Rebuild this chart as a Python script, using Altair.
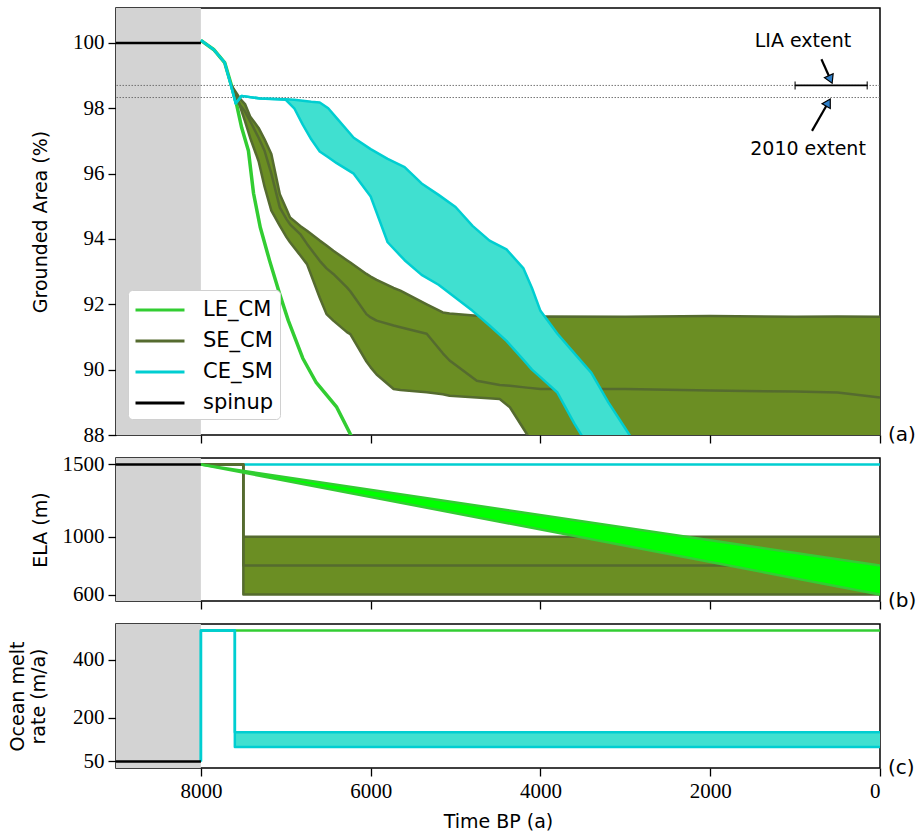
import altair as alt
import pandas as pd

# ---------------- data ----------------
SERIES = ["LE_CM", "SE_CM", "CE_SM", "spinup"]
SERIES_COLORS = ["#32cd32", "#556b2f", "#00ced1", "#000000"]
OLIVE_FILL = "#6b8e23"
CYAN_FILL = "#40e0d0"
LIME_FILL = "#00ff00"
SPINUP_GREY = "#d3d3d3"

X_TICKS = [0, 2000, 4000, 6000, 8000]
YA_TICKS = [88, 90, 92, 94, 96, 98, 100]
YB_TICKS = [600, 1000, 1500]
YC_TICKS = [50, 200, 400]
PANEL_LABELS = ["(a)", "(b)", "(c)"]

SPINUP_T = [9000, 8000]

# panel (a): grounded area (%)
SPIN_AREA = [100.0, 100.0]

LE_T = [8000, 7850, 7720, 7640, 7580, 7520, 7440, 7380, 7300, 7190, 7070, 6970, 6800, 6640, 6400, 6240, 6100]
LE_AREA = [100.08, 99.8, 99.4, 98.7, 98.13, 97.41, 96.7, 95.4, 94.35, 93.33, 92.3, 91.5, 90.35, 89.6, 88.85, 88.03, 87.4]

SE_T = [7640, 7540, 7480, 7420, 7320, 7250, 7170, 7070, 6990, 6950, 6830, 6750, 6600, 6520, 6440, 6280,
        6240, 6050, 6000, 5930, 5730, 5650, 5340, 5150, 5070, 4750, 4480, 4360, 4160, 4000, 3000, 2000,
        1000, 500, 0]
SE_HI = [98.7, 98.3, 98.13, 97.75, 97.4, 97.05, 96.6, 95.37, 94.9, 94.66, 94.4, 94.25, 93.95, 93.8, 93.64, 93.35,
         93.28, 92.93, 92.85, 92.75, 92.5, 92.42, 92.0, 91.75, 91.72, 91.65, 91.63, 91.62, 91.62, 91.63, 91.62, 91.64,
         91.62, 91.63, 91.62]
SE_LO = [98.7, 98.07, 97.6, 97.1, 96.38, 95.6, 94.87, 94.4, 94.05, 93.9, 93.5, 93.23, 92.2, 91.7, 91.5, 91.15,
         91.09, 90.25, 90.07, 89.85, 89.41, 89.38, 89.31, 89.25, 89.2, 89.15, 89.1, 88.85, 88.03, 87.4, 85.0, 85.0,
         85.0, 85.0, 85.0]
SE_MID = [98.7, 98.1, 97.9, 97.61, 97.1, 96.7, 96.0, 94.96, 94.6, 94.45, 94.15, 93.85, 93.33, 93.1, 92.93, 92.52,
          92.4, 91.7, 91.6, 91.5, 91.35, 91.3, 91.1, 90.5, 90.28, 89.66, 89.53, 89.51, 89.45, 89.41, 89.41, 89.36,
          89.33, 89.3, 89.15]

CE_T = [8000, 7850, 7720, 7640, 7590, 7520, 7300, 7000, 6900, 6800, 6700, 6600, 6500, 6400, 6200, 6000, 5800,
        5600, 5400, 5200, 5000, 4800, 4600, 4400, 4200, 4100, 4000, 3800, 3600, 3400, 3200, 3000, 2800]
CE_HI = [100.08, 99.8, 99.4, 98.65, 98.15, 98.38, 98.3, 98.28, 98.26, 98.23, 98.2, 98.18, 98.0, 97.7, 97.1, 96.75,
         96.45, 96.2, 95.7, 95.35, 94.98, 94.4, 93.95, 93.68, 93.1, 92.5, 91.8, 91.1, 90.5, 89.9, 89.0, 88.2, 87.4]
CE_LO = [100.08, 99.8, 99.4, 98.65, 98.15, 98.38, 98.3, 98.26, 98.0, 97.5, 97.05, 96.68, 96.5, 96.32, 96.0, 95.3,
         93.9, 93.35, 92.9, 92.6, 92.2, 91.8, 91.35, 90.88, 90.3, 90.0, 89.77, 89.3, 88.35, 87.5, 86.8, 86.0, 85.2]

LIA_LEVEL = 98.7
LEVEL_2010 = 98.33
LIA_RANGE = [1000, 150]
ANN_TEXT = ["LIA extent", "2010 extent"]
ANN_T = [907, 848]
ANN_V = [100.06, 96.76]
ARROW_TAIL_T = [690, 801]
ARROW_TAIL_V = [99.5, 97.31]
ARROW_HEAD_T = [590, 618]
ARROW_HEAD_V = [98.92, 98.14]

# panel (b): ELA (m)
ELA_SPIN = [1500, 1500]
ELA_LE_T = [8000, 0]
ELA_LE_HI = [1500, 800]
ELA_LE_LO = [1500, 600]
ELA_SE_BAND_T = [7500, 0]
ELA_SE_BAND_HI = [1000, 1000]
ELA_SE_BAND_LO = [600, 600]
ELA_SE_EDGE_T = [8000, 7500, 7500, 0]
ELA_SE_UP = [1500, 1500, 1000, 1000]
ELA_SE_DN = [1500, 1500, 600, 600]
ELA_SE_MID = [1500, 1500, 800, 800]
ELA_CE_T = [8000, 0]
ELA_CE = [1500, 1500]

# panel (c): ocean melt rate (m/a)
MELT_SPIN = [50, 50]
MELT_LE_T = [8000, 0]
MELT_LE = [500, 500]
MELT_CE_EDGE_T = [8000, 8000, 7600, 7600, 0]
MELT_CE_UP = [50, 500, 500, 150, 150]
MELT_CE_DN = [50, 500, 500, 100, 100]
MELT_CE_BAND_T = [7600, 0]
MELT_CE_BAND_HI = [150, 150]
MELT_CE_BAND_LO = [100, 100]

# ---------------- helpers ----------------
SANS = "DejaVu Sans"
SERIF = "Liberation Serif, DejaVu Serif, serif"
W = 764
HA, HB, HC = 427, 143, 144

XSCALE = alt.Scale(domain=[0, 9000], reverse=True, nice=False, zero=False)
YA_SCALE = alt.Scale(domain=[88, 101.07], nice=False, zero=False)
YB_SCALE = alt.Scale(domain=[555, 1545], nice=False, zero=False)
YC_SCALE = alt.Scale(domain=[27.5, 522.5], nice=False, zero=False)
COLOR_SCALE = alt.Scale(domain=SERIES, range=SERIES_COLORS)

AXIS_STYLE = dict(labelFont=SERIF, labelFontSize=21, labelColor="black", tickColor="black",
                  tickSize=8, tickWidth=1.3, domain=False, grid=False,
                  titleFont=SANS, titleFontSize=19, titleFontWeight="normal", titleColor="black")


def x_axis(labels):
    if labels:
        return alt.Axis(values=X_TICKS, format="d", title="Time BP (a)", labels=True,
                        labelPadding=4, titleY=53, titleBaseline="middle", **AXIS_STYLE)
    return alt.Axis(values=X_TICKS, format="d", title=None, labels=False, **AXIS_STYLE)


def y_axis(values, title, tx):
    return alt.Axis(values=values, format="d", title=title, titleX=tx, titleBaseline="middle",
                    titleAngle=270, labelPadding=4, **AXIS_STYLE)


def line_df(t, v, series, part):
    return pd.DataFrame({"t": t, "v": v, "series": series, "part": part, "i": list(range(len(t)))})


def band_df(t, lo, hi):
    return pd.DataFrame({"t": t, "lo": lo, "hi": hi})


def lines_layer(df, xa, ys, ya, legend, width):
    return alt.Chart(df).mark_line(strokeWidth=width, clip=True, strokeJoin="round").encode(
        x=alt.X("t:Q", scale=XSCALE, axis=xa),
        y=alt.Y("v:Q", scale=ys, axis=ya),
        color=alt.Color("series:N", scale=COLOR_SCALE, legend=legend),
        detail="part:N",
        order="i:Q",
    )


def band_layer(df, xa, ys, ya, fill):
    return alt.Chart(df).mark_area(color=fill, opacity=1, clip=True).encode(
        x=alt.X("t:Q", scale=XSCALE, axis=xa),
        y=alt.Y("lo:Q", scale=ys, axis=ya),
        y2="hi:Q",
    )


def grey_layer(xa, height):
    return alt.Chart(pd.DataFrame({"t0": [SPINUP_T[0]], "t1": [SPINUP_T[1]]})).mark_rect(
        color=SPINUP_GREY).encode(
        x=alt.X("t0:Q", scale=XSCALE, axis=xa), x2="t1:Q",
        y=alt.value(0), y2=alt.value(height))


def label_layer(text, height):
    return alt.Chart(pd.DataFrame({"lab": [text]})).mark_text(
        align="left", baseline="middle", font=SANS, fontSize=20, color="black").encode(
        x=alt.value(W + 8), y=alt.value(height), text="lab:N")


# ---------------- panel (a) ----------------
xa_a = x_axis(False)
ya_a = y_axis(YA_TICKS, "Grounded Area (%)", -76)
LEGEND = alt.Legend(orient="none", legendX=12, legendY=282, title=None, symbolType="M-2,0H2",
                    symbolSize=600, symbolStrokeWidth=3, symbolOffset=12, labelOffset=29,
                    labelFontSize=21, labelFont=SANS, labelColor="black",
                    fillColor="white", strokeColor="#d0d0d0", cornerRadius=4, padding=6,
                    rowPadding=7)

ref_df = pd.DataFrame({"v": [LIA_LEVEL, LEVEL_2010]})
refs = alt.Chart(ref_df).mark_rule(color="#666666", strokeWidth=0.9, strokeDash=[1.5, 1.5]).encode(
    y=alt.Y("v:Q", scale=YA_SCALE, axis=ya_a))

err_df = pd.DataFrame({"t0": [LIA_RANGE[0]], "t1": [LIA_RANGE[1]], "v": [LIA_LEVEL]})
err = alt.Chart(err_df).mark_rule(color="black", strokeWidth=1.8).encode(
    x=alt.X("t0:Q", scale=XSCALE, axis=xa_a), x2="t1:Q", y=alt.Y("v:Q", scale=YA_SCALE, axis=ya_a))
caps_df = pd.DataFrame({"t": LIA_RANGE, "v": [LIA_LEVEL, LIA_LEVEL]})
caps = alt.Chart(caps_df).mark_tick(orient="vertical", color="black", size=8, thickness=1.5).encode(
    x=alt.X("t:Q", scale=XSCALE, axis=xa_a), y=alt.Y("v:Q", scale=YA_SCALE, axis=ya_a))

arr_df = pd.DataFrame({"t0": ARROW_TAIL_T, "v0": ARROW_TAIL_V, "t1": ARROW_HEAD_T, "v1": ARROW_HEAD_V})
shafts = alt.Chart(arr_df).mark_rule(color="black", strokeWidth=2.2).encode(
    x=alt.X("t0:Q", scale=XSCALE, axis=xa_a), y=alt.Y("v0:Q", scale=YA_SCALE, axis=ya_a),
    x2="t1:Q", y2="v1:Q")
head1 = alt.Chart(arr_df.iloc[[0]]).mark_point(shape="triangle", filled=True, fill="#2f7fc8", stroke="black",
                                               strokeWidth=1.2, size=90, angle=156, opacity=1).encode(
    x=alt.X("t1:Q", scale=XSCALE, axis=xa_a), y=alt.Y("v1:Q", scale=YA_SCALE, axis=ya_a))
head2 = alt.Chart(arr_df.iloc[[1]]).mark_point(shape="triangle", filled=True, fill="#2f7fc8", stroke="black",
                                               strokeWidth=1.2, size=90, angle=30, opacity=1).encode(
    x=alt.X("t1:Q", scale=XSCALE, axis=xa_a), y=alt.Y("v1:Q", scale=YA_SCALE, axis=ya_a))
ann = alt.Chart(pd.DataFrame({"t": ANN_T, "v": ANN_V, "txt": ANN_TEXT})).mark_text(
    font=SANS, fontSize=19, color="black").encode(
    x=alt.X("t:Q", scale=XSCALE, axis=xa_a), y=alt.Y("v:Q", scale=YA_SCALE, axis=ya_a), text="txt:N")

le_a = lines_layer(line_df(LE_T, LE_AREA, "LE_CM", "le"), xa_a, YA_SCALE, ya_a, LEGEND, 3.5)
se_band_a = band_layer(band_df(SE_T, SE_LO, SE_HI), xa_a, YA_SCALE, ya_a, OLIVE_FILL)
se_lines_a = lines_layer(pd.concat([
    line_df(SE_T, SE_HI, "SE_CM", "hi"),
    line_df(SE_T, SE_LO, "SE_CM", "lo"),
    line_df(SE_T, SE_MID, "SE_CM", "mid")]), xa_a, YA_SCALE, ya_a, LEGEND, 2.5)
ce_band_a = band_layer(band_df(CE_T, CE_LO, CE_HI), xa_a, YA_SCALE, ya_a, CYAN_FILL)
ce_lines_a = lines_layer(pd.concat([
    line_df(CE_T, CE_HI, "CE_SM", "hi"),
    line_df(CE_T, CE_LO, "CE_SM", "lo")]), xa_a, YA_SCALE, ya_a, LEGEND, 2.5)
spin_a = lines_layer(line_df(SPINUP_T, SPIN_AREA, "spinup", "s"), xa_a, YA_SCALE, ya_a, LEGEND, 2.5)

panel_a = alt.layer(
    grey_layer(xa_a, HA), refs, le_a, se_band_a, se_lines_a, ce_band_a, ce_lines_a, spin_a,
    err, caps, shafts, head1, head2, ann, label_layer(PANEL_LABELS[0], HA)
).properties(width=W, height=HA)

# ---------------- panel (b) ----------------
xa_b = x_axis(False)
ya_b = y_axis(YB_TICKS, "ELA (m)", -76)
ce_b = lines_layer(line_df(ELA_CE_T, ELA_CE, "CE_SM", "ce"), xa_b, YB_SCALE, ya_b, None, 2.5)
se_band_b = band_layer(band_df(ELA_SE_BAND_T, ELA_SE_BAND_LO, ELA_SE_BAND_HI), xa_b, YB_SCALE, ya_b, OLIVE_FILL)
se_lines_b = lines_layer(pd.concat([
    line_df(ELA_SE_EDGE_T, ELA_SE_UP, "SE_CM", "up"),
    line_df(ELA_SE_EDGE_T, ELA_SE_DN, "SE_CM", "dn"),
    line_df(ELA_SE_EDGE_T, ELA_SE_MID, "SE_CM", "mid")]), xa_b, YB_SCALE, ya_b, None, 2.5)
le_band_b = band_layer(band_df(ELA_LE_T, ELA_LE_LO, ELA_LE_HI), xa_b, YB_SCALE, ya_b, LIME_FILL)
le_lines_b = lines_layer(pd.concat([
    line_df(ELA_LE_T, ELA_LE_HI, "LE_CM", "hi"),
    line_df(ELA_LE_T, ELA_LE_LO, "LE_CM", "lo")]), xa_b, YB_SCALE, ya_b, None, 2.5)
spin_b = lines_layer(line_df(SPINUP_T, ELA_SPIN, "spinup", "s"), xa_b, YB_SCALE, ya_b, None, 2.5)

panel_b = alt.layer(
    grey_layer(xa_b, HB), ce_b, se_band_b, se_lines_b, le_band_b, le_lines_b, spin_b,
    label_layer(PANEL_LABELS[1], HB)
).properties(width=W, height=HB)

# ---------------- panel (c) ----------------
xa_c = x_axis(True)
ya_c = y_axis(YC_TICKS, ["Ocean melt", "rate (m/a)"], -99)
le_c = lines_layer(line_df(MELT_LE_T, MELT_LE, "LE_CM", "le"), xa_c, YC_SCALE, ya_c, None, 2.5)
ce_band_c = band_layer(band_df(MELT_CE_BAND_T, MELT_CE_BAND_LO, MELT_CE_BAND_HI), xa_c, YC_SCALE, ya_c, CYAN_FILL)
ce_lines_c = lines_layer(pd.concat([
    line_df(MELT_CE_EDGE_T, MELT_CE_UP, "CE_SM", "up"),
    line_df(MELT_CE_EDGE_T, MELT_CE_DN, "CE_SM", "dn")]), xa_c, YC_SCALE, ya_c, None, 2.5)
spin_c = lines_layer(line_df(SPINUP_T, MELT_SPIN, "spinup", "s"), xa_c, YC_SCALE, ya_c, None, 2.5)

panel_c = alt.layer(
    grey_layer(xa_c, HC), le_c, ce_band_c, ce_lines_c, spin_c,
    label_layer(PANEL_LABELS[2], HC)
).properties(width=W, height=HC)

chart = alt.vconcat(panel_a, panel_b, panel_c, spacing=23, bounds="flush").resolve_scale(
    color="independent").resolve_legend(color="independent").properties(
    padding={"left": 7, "top": 7, "right": 0, "bottom": 0}
).configure_view(stroke="black", strokeWidth=1.5)

chart.save("out.html", embed_options={"renderer": "svg", "actions": False})
